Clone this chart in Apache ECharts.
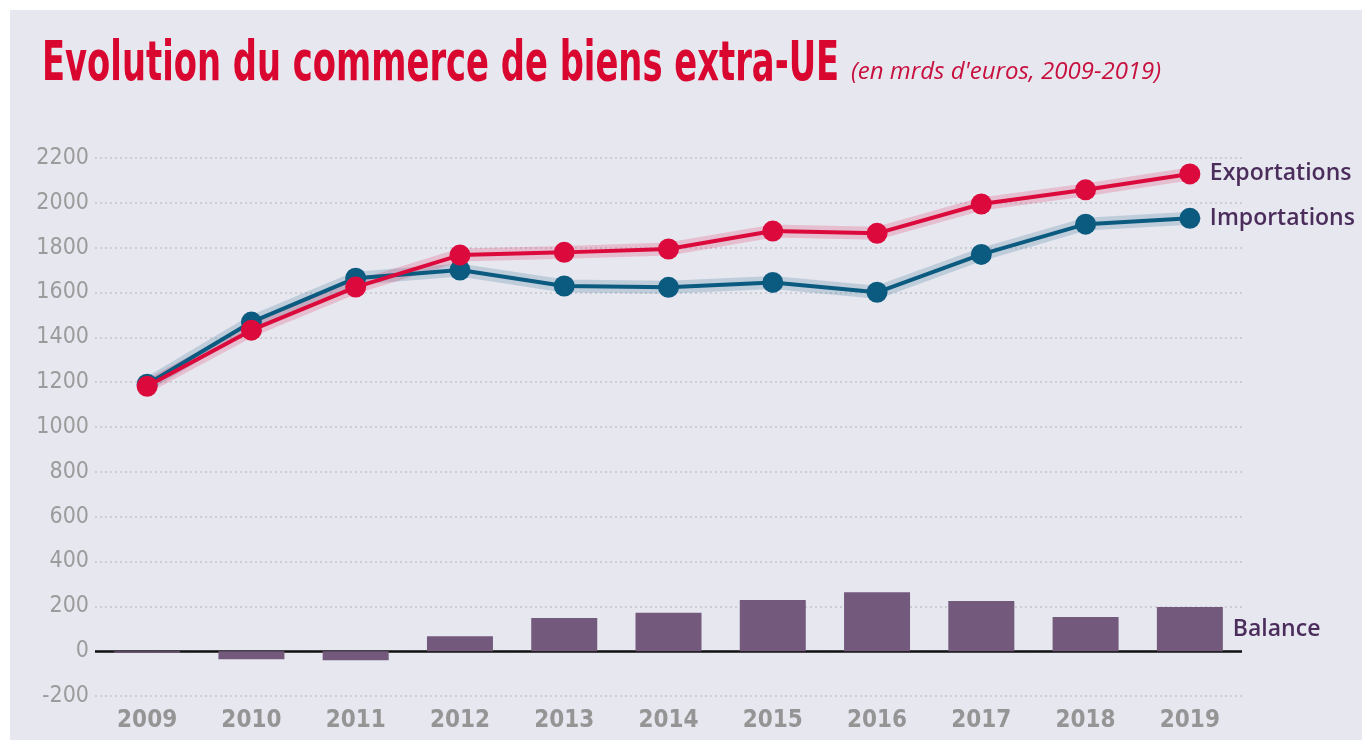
<!DOCTYPE html>
<html>
<head>
<meta charset="utf-8">
<title>Evolution du commerce de biens extra-UE</title>
<script src="https://cdn.jsdelivr.net/npm/echarts@6/dist/echarts.min.js"></script>
<style>
  html, body { margin: 0; padding: 0; background: #fff; }
  #chart { width: 1362px; height: 740px; }
</style>
</head>
<body>
<div id="chart"></div>
<script>
// valeurs (mrds d'euros)
var years = ['2009', '2010', '2011', '2012', '2013', '2014', '2015', '2016', '2017', '2018', '2019'];
var exportations = [1182, 1432, 1624, 1767, 1779, 1794, 1874, 1864, 1995, 2058, 2129];
var importations = [1191, 1468, 1664, 1700, 1629, 1623, 1645, 1601, 1770, 1905, 1931];
var balance = [-7, -36, -41, 67, 148, 171, 228, 263, 224, 152, 197];

var narrow = '"DejaVu Sans Condensed", "Liberation Sans", sans-serif';
var labelFont = '"Open Sans", "Liberation Sans", sans-serif';
var red = '#dc0a3c';
var blue = '#0b5b80';
var purple = '#735a7d';
var labelColor = '#4b2d5c';

var chart = echarts.init(document.getElementById('chart'));

function halo(name, data, color) {
    return {
        name: name + '-halo',
        type: 'line',
        data: data,
        symbol: 'none',
        silent: true,
        lineStyle: { width: 13, color: color, opacity: 0.18 },
        z: 1
    };
}

function endLabel(text) {
    return {
        show: true,
        formatter: text,
        distance: 20,
        color: labelColor,
        fontFamily: labelFont,
        fontWeight: 600,
        fontSize: 23
    };
}

var option = {
    backgroundColor: '#ffffff',
    animation: false,
    graphic: [
        {
            type: 'rect',
            shape: { x: 10, y: 10, width: 1352, height: 730 },
            style: { fill: '#e7e7f0' },
            z: -10
        },
        {
            type: 'text',
            x: 42,
            y: 38,
            scaleX: 0.683,
            style: {
                x: 0,
                y: 0,
                text: 'Evolution du commerce de biens extra-UE',
                font: 'bold 55px ' + narrow,
                fill: '#d9062f',
                verticalAlign: 'top'
            }
        },
        {
            type: 'text',
            x: 851,
            y: 60,
            style: {
                x: 0,
                y: 0,
                text: "(en mrds d'euros, 2009-2019)",
                font: 'italic 24px "Open Sans", sans-serif',
                fill: '#c8103e',
                verticalAlign: 'top'
            }
        }
    ],
    grid: { left: 95, right: 120, top: 158, bottom: 44 },
    xAxis: {
        type: 'category',
        data: years,
        boundaryGap: true,
        axisLine: { show: false },
        axisTick: { show: false },
        axisLabel: {
            color: '#959595',
            fontFamily: narrow,
            fontWeight: 'bold',
            fontSize: 24,
            margin: 13
        },
        splitLine: { show: false }
    },
    yAxis: {
        type: 'value',
        min: -200,
        max: 2200,
        interval: 200,
        axisLine: { show: false },
        axisTick: { show: false },
        axisLabel: {
            color: '#9b9b9b',
            fontFamily: narrow,
            fontSize: 23,
            margin: 6,
            formatter: function (v) { return String(v); }
        },
        splitLine: {
            lineStyle: { color: '#c4c4cc', type: [2, 3], width: 1.5 }
        }
    },
    series: [
        {
            name: 'Balance',
            type: 'bar',
            data: balance,
            barWidth: 66,
            itemStyle: { color: purple },
            z: 2,
            label: {
                show: true,
                position: 'right',
                distance: 10,
                formatter: function (p) { return p.dataIndex === years.length - 1 ? 'Balance' : ''; },
                color: labelColor,
                fontFamily: labelFont,
                fontWeight: 600,
                fontSize: 23
            },
            markLine: {
                silent: true,
                symbol: 'none',
                label: { show: false },
                lineStyle: { color: '#111111', type: 'solid', width: 2.5 },
                data: [{ yAxis: 0 }],
                z: 1
            }
        },
        halo('Importations', importations, blue),
        {
            name: 'Importations',
            type: 'line',
            data: importations,
            symbol: 'circle',
            symbolSize: 21,
            itemStyle: { color: blue },
            lineStyle: { width: 4, color: blue },
            z: 3,
            endLabel: endLabel('Importations')
        },
        halo('Exportations', exportations, red),
        {
            name: 'Exportations',
            type: 'line',
            data: exportations,
            symbol: 'circle',
            symbolSize: 21,
            itemStyle: { color: red },
            lineStyle: { width: 4, color: red },
            z: 4,
            endLabel: endLabel('Exportations')
        }
    ]
};

chart.setOption(option);
</script>
</body>
</html>
